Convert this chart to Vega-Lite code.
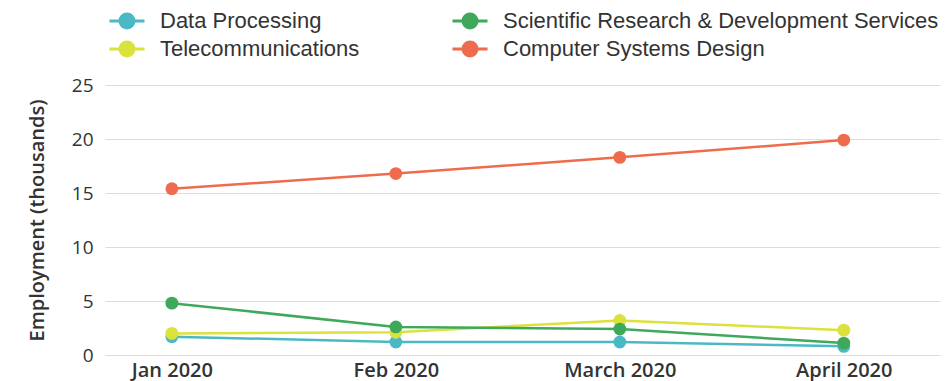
{
  "$schema": "https://vega.github.io/schema/vega-lite/v6.json",
  "autosize": "none",
  "width": 835,
  "height": 270,
  "padding": {"left": 105, "top": 85, "right": 6, "bottom": 26},
  "background": "white",
  "data": {
    "values": [
      {"month": "Jan 2020", "series": "Data Processing", "value": 1.7},
      {"month": "Feb 2020", "series": "Data Processing", "value": 1.2},
      {"month": "March 2020", "series": "Data Processing", "value": 1.2},
      {"month": "April 2020", "series": "Data Processing", "value": 0.8},
      {"month": "Jan 2020", "series": "Telecommunications", "value": 2.0},
      {"month": "Feb 2020", "series": "Telecommunications", "value": 2.1},
      {"month": "March 2020", "series": "Telecommunications", "value": 3.2},
      {"month": "April 2020", "series": "Telecommunications", "value": 2.3},
      {"month": "Jan 2020", "series": "Scientific Research & Development Services", "value": 4.8},
      {"month": "Feb 2020", "series": "Scientific Research & Development Services", "value": 2.6},
      {"month": "March 2020", "series": "Scientific Research & Development Services", "value": 2.4},
      {"month": "April 2020", "series": "Scientific Research & Development Services", "value": 1.1},
      {"month": "Jan 2020", "series": "Computer Systems Design", "value": 15.4},
      {"month": "Feb 2020", "series": "Computer Systems Design", "value": 16.8},
      {"month": "March 2020", "series": "Computer Systems Design", "value": 18.3},
      {"month": "April 2020", "series": "Computer Systems Design", "value": 19.9}
    ]
  },
  "encoding": {
    "x": {
      "field": "month",
      "type": "ordinal",
      "sort": ["Jan 2020", "Feb 2020", "March 2020", "April 2020"],
      "scale": {"type": "point", "padding": 0.364, "align": 0.41},
      "axis": {
        "title": null,
        "domain": false,
        "ticks": false,
        "grid": false,
        "labelAngle": 0,
        "labelFont": "Open Sans",
        "labelFontWeight": 600,
        "labelFontSize": 20,
        "labelColor": "#333333",
        "labelPadding": 5
      }
    },
    "y": {
      "field": "value",
      "type": "quantitative",
      "scale": {"domain": [0, 25]},
      "axis": {
        "title": "Employment (thousands)",
        "titleFont": "Open Sans",
        "titleFontWeight": 600,
        "titleFontSize": 20,
        "titleColor": "#333333",
        "titlePadding": 24,
        "values": [0, 5, 10, 15, 20, 25],
        "domain": false,
        "ticks": false,
        "gridColor": "#dddddd",
        "gridWidth": 1.2,
        "labelFont": "Open Sans",
        "labelFontSize": 19,
        "labelColor": "#333333",
        "labelPadding": 12
      }
    },
    "color": {
      "field": "series",
      "type": "nominal",
      "scale": {
        "domain": ["Data Processing", "Telecommunications", "Scientific Research & Development Services", "Computer Systems Design"],
        "range": ["#4bb9c5", "#dce23c", "#3ea95b", "#ef6b4d"]
      },
      "legend": {
        "title": null,
        "orient": "none",
        "legendX": 8,
        "legendY": -78,
        "columns": 2,
        "columnPadding": 86,
        "rowPadding": 1,
        "labelFont": "Liberation Sans",
        "labelFontSize": 22,
        "labelLimit": 600,
        "labelColor": "#333333",
        "labelOffset": 19,
        "symbolType": "M-1.4,0L1.4,0M-0.56,0A0.56,0.56,0,1,1,0.56,0A0.56,0.56,0,1,1,-0.56,0Z",
        "symbolSize": 625,
        "symbolStrokeWidth": 3
      }
    }
  },
  "layer": [
    {"mark": {"type": "line", "strokeWidth": 2.5}},
    {"mark": {"type": "point", "filled": true, "size": 165, "opacity": 1}}
  ],
  "config": {"view": {"stroke": null}}
}
